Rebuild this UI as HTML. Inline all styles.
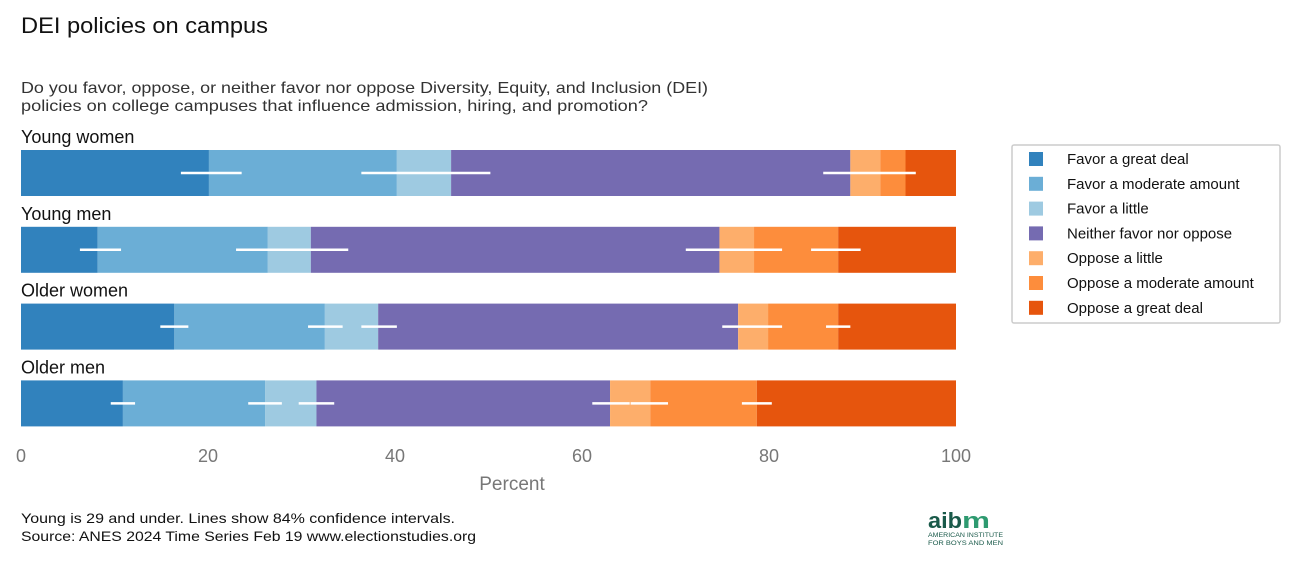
<!DOCTYPE html>
<html><head><meta charset="utf-8"><style>
body{margin:0;background:#fff;width:1296px;height:561px;overflow:hidden}
svg{display:block;font-family:"Liberation Sans",sans-serif}
</style></head><body>
<svg id="chart" width="1296" height="561" viewBox="0 0 1296 561" xmlns="http://www.w3.org/2000/svg">
<text x="21" y="33" font-size="22" fill="#111" textLength="247" lengthAdjust="spacingAndGlyphs">DEI policies on campus</text>
<text x="21" y="93" font-size="16" fill="#333" textLength="687" lengthAdjust="spacingAndGlyphs">Do you favor, oppose, or neither favor nor oppose Diversity, Equity, and Inclusion (DEI)</text>
<text x="21" y="111" font-size="16" fill="#333" textLength="627" lengthAdjust="spacingAndGlyphs">policies on college campuses that influence admission, hiring, and promotion?</text>
<g id="bars"></g>
<g id="axis"></g>
<text x="512" y="490" font-size="19" fill="#777" text-anchor="middle">Percent</text>
<g id="legend">
<rect x="1012" y="145" width="268" height="178" fill="#fff" stroke="#ccc" stroke-width="1.5" rx="2"/>
</g>
<text x="21" y="523" font-size="14" fill="#111" textLength="434" lengthAdjust="spacingAndGlyphs">Young is 29 and under. Lines show 84% confidence intervals.</text>
<text x="21" y="541" font-size="14" fill="#111" textLength="455" lengthAdjust="spacingAndGlyphs">Source: ANES 2024 Time Series Feb 19 www.electionstudies.org</text>
<g>
<text x="928" y="528" font-size="22" font-weight="bold" fill="#1a5a4a" textLength="34" lengthAdjust="spacingAndGlyphs">aib</text>
<text x="962" y="528" font-size="22" font-weight="bold" fill="#2e9a70" textLength="28" lengthAdjust="spacingAndGlyphs">m</text>
<text x="928" y="537" font-size="6" fill="#1a5a4a" textLength="75" lengthAdjust="spacingAndGlyphs">AMERICAN INSTITUTE</text>
<text x="928" y="545" font-size="6" fill="#1a5a4a" textLength="75" lengthAdjust="spacingAndGlyphs">FOR BOYS AND MEN</text>
</g>
</svg>
<script>
const groups=["Young women","Young men","Older women","Older men"];
const categories=["Favor a great deal","Favor a moderate amount","Favor a little","Neither favor nor oppose","Oppose a little","Oppose a moderate amount","Oppose a great deal"];
const youngWomen=[20.1,20.1,5.8,42.7,3.2,2.7,5.4];
const youngMen=[8.2,18.2,4.6,43.7,3.7,9.0,12.6];
const olderWomen=[16.4,16.1,5.7,38.5,3.2,7.5,12.6];
const olderMen=[10.9,15.2,5.5,31.4,4.3,11.4,21.3];
const ciYoungWomen=[[17.1,23.6],[36.4,50.2],[85.8,95.7]];
const ciYoungMen=[[6.3,10.7],[23.0,35.0],[71.1,81.4],[84.5,89.8]];
const ciOlderWomen=[[14.9,17.9],[30.7,34.4],[36.4,40.2],[75.0,81.4],[86.1,88.7]];
const ciOlderMen=[[9.6,12.2],[24.3,27.9],[29.7,33.5],[61.1,65.1],[65.2,69.2],[77.1,80.3]];
const ticks=[0,20,40,60,80,100];
const series=[youngWomen,youngMen,olderWomen,olderMen];
const cis=[ciYoungWomen,ciYoungMen,ciOlderWomen,ciOlderMen];
const colors=["#3182bd","#6baed6","#9ecae1","#756bb1","#fdae6b","#fd8d3c","#e6550d"];
const NS="http://www.w3.org/2000/svg";
const x=v=>21+v*9.35;
const rowY=i=>150+i*76.8;
function mk(tag,attrs,parent){const e=document.createElementNS(NS,tag);for(const k in attrs)e.setAttribute(k,attrs[k]);parent.appendChild(e);return e;}
const bars=document.getElementById('bars');
series.forEach((vals,i)=>{
  const y=rowY(i);
  const lab=mk('text',{x:21,y:y-7,'font-size':18,fill:'#111'},bars);
  lab.textContent=groups[i];
  
  
  let c=0;
  vals.forEach((v,j)=>{
    const r=mk('rect',{x:x(c),y:y,width:x(c+v)-x(c),height:46,fill:colors[j]},bars);
    
    
    c+=v;
  });
  cis[i].forEach(ci=>{
    const l=mk('line',{x1:x(ci[0]),x2:x(ci[1]),y1:y+23,y2:y+23,stroke:'#fff','stroke-width':2.5},bars);
    
    
  });
});
const axis=document.getElementById('axis');
ticks.forEach(t=>{
  const tx=mk('text',{x:x(t),y:462,'font-size':18,fill:'#777','text-anchor':'middle'},axis);
  tx.textContent=t;
  
  
});
const leg=document.getElementById('legend');
categories.forEach((c,j)=>{
  const y=159+j*24.8;
  const s=mk('rect',{x:1029,y:y-7,width:14,height:14,fill:colors[j]},leg);
  
  
  const t=mk('text',{x:1067,y:y+5,'font-size':15,fill:'#111'},leg);
  t.textContent=c;
  
  
});
</script>
</body></html>
